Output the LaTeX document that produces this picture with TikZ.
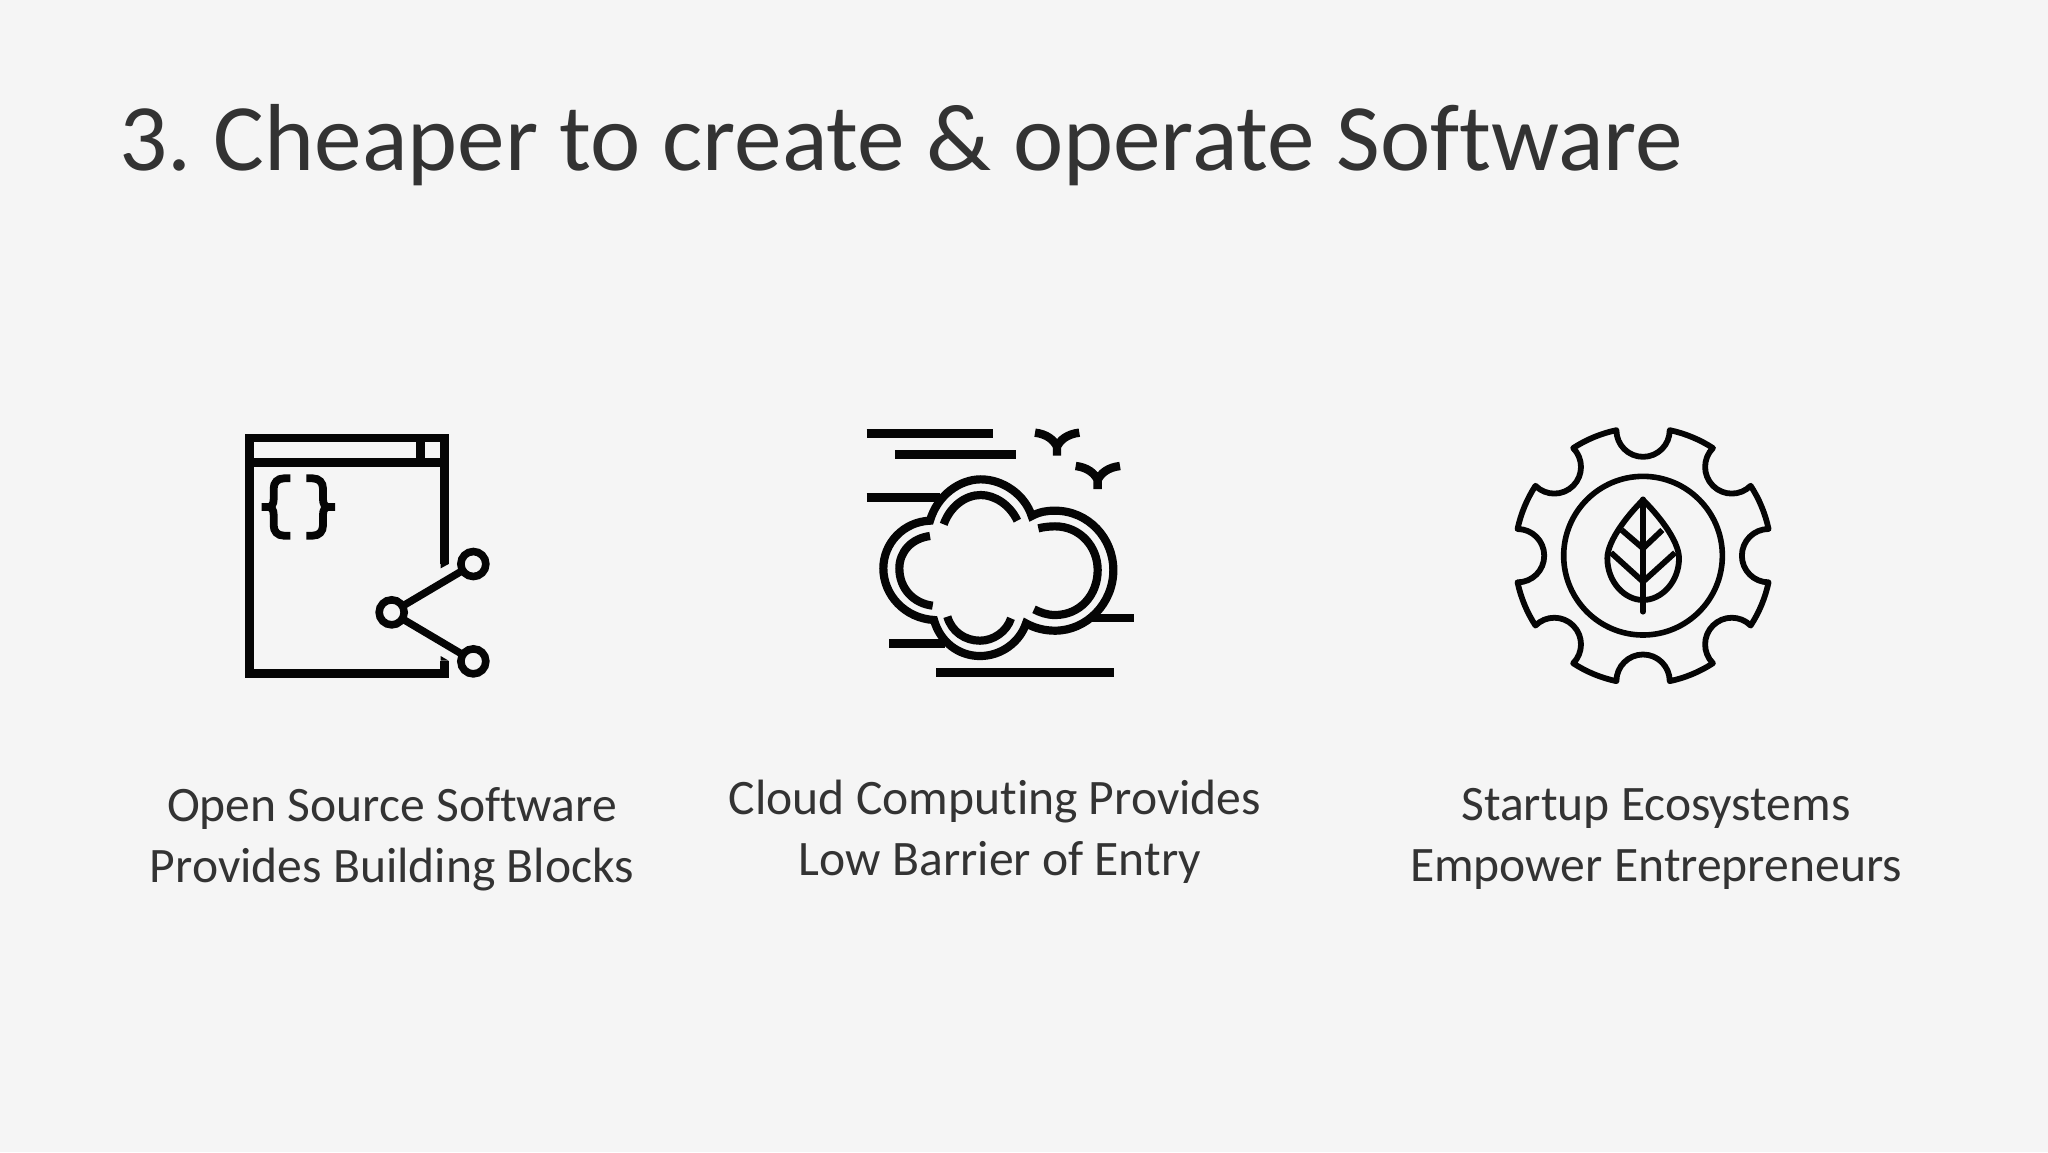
\documentclass[tikz,border=0pt]{standalone}
\usepackage{fontspec}
\setmainfont[Ligatures=CommonOff]{Carlito}
\definecolor{bgc}{HTML}{F5F5F5}
\definecolor{txt}{HTML}{333333}
\definecolor{ink}{HTML}{050505}
\tikzset{
  title/.style={anchor=base west,text=txt,font=\fontsize{47.6}{54}\selectfont,inner sep=0pt},
  caption/.style={anchor=center,text=txt,align=center,font=\fontsize{24.8}{30.6}\selectfont,inner sep=0pt},
  zoomed/.style={x=0.166667pt,y=-0.166667pt,ink,line join=miter},
}
\begin{document}
\begin{tikzpicture}[x=0.5pt,y=-0.5pt]
\fill[bgc] (0,0) rectangle (2048,1152);
\useasboundingbox (0,0) rectangle (2048,1152);
\node[title] (head) at (119,170) {3.\kern-3.2pt{} Cheaper to create \& operate Software};
\node[caption] (capa) at (392,839) {Open Source Software\\Provides Building Blocks};
\node[caption] (capb) at (995,832) {Cloud Computing Provides\\\hspace*{5pt}Low Barrier of Entry};
\node[caption] (capc) at (1656,839) {Startup Ecosystems\\Empower Entrepreneurs};
% icon 1
\begin{scope}[shift={(220,410)},zoomed]
\draw[line width=4.2pt] (674,752) -- (674,790) -- (88,790) -- (88,84) -- (674,84) -- (674,462);
\fill (662,462) -- (686,462) -- (662,475) -- cycle;
\fill (662,752) -- (686,752) -- (662,738) -- cycle;
\draw[line width=4.2pt] (88,157) -- (674,157) (601,84) -- (601,157);
\draw[line width=3.8pt] (760,462) circle[radius=37.5] (760,754) circle[radius=37.5] (515,607) circle[radius=37.5];
\draw[line width=3.7pt] (548,588) -- (727,482) (548,627) -- (727,733);
\draw[line width=3.9pt] (211,205) -- (192,205) .. controls (172,205) and (161,218) .. (161,236) -- (161,268) .. controls (161,282) and (155,291) .. (145,291) -- (125,291)
  (125,291) -- (145,291) .. controls (155,291) and (161,300) .. (161,314) -- (161,346) .. controls (161,364) and (172,377) .. (192,377) -- (211,377);
\draw[line width=3.9pt] (259,205) -- (278,205) .. controls (298,205) and (309,218) .. (309,236) -- (309,268) .. controls (309,282) and (315,291) .. (325,291) -- (345,291)
  (345,291) -- (325,291) .. controls (315,291) and (309,300) .. (309,314) -- (309,346) .. controls (309,364) and (298,377) .. (278,377) -- (259,377);
\end{scope}
% icon 2
\begin{scope}[shift={(850,410)},zoomed]
\draw[line width=4.2pt] (50,70) -- (428,70) (135,133) -- (498,133) (50,262) -- (270,262) (725,624) -- (852,624) (118,700) -- (285,700) (258,788) -- (792,788);
\draw[line width=4.2pt] (555,68) .. controls (590,72) and (612,90) .. (621,110) .. controls (630,90) and (652,72) .. (688,68) (621,105) -- (621,137);
\draw[line width=4.2pt] (677,168) .. controls (712,172) and (734,190) .. (743,210) .. controls (752,190) and (774,172) .. (810,168) (743,205) -- (743,237);
\draw[line width=4.1pt] (240,332) .. controls (262,255) and (330,208) .. (392,208) .. controls (460,208) and (525,255) .. (545,318)
 .. controls (570,305) and (590,302) .. (615,302) .. controls (715,302) and (790,385) .. (790,480) .. controls (790,580) and (710,662) .. (615,662) .. controls (585,662) and (555,655) .. (528,640)
 .. controls (510,695) and (455,738) .. (390,738) .. controls (325,738) and (270,695) .. (252,630)
 .. controls (165,625) and (100,555) .. (100,475) .. controls (100,400) and (160,335) .. (240,332) -- cycle;
\draw[line width=4.1pt] (281,343) .. controls (300,290) and (345,255) .. (392,255) .. controls (435,255) and (480,285) .. (502,332);
\draw[line width=4.1pt] (565,355) .. controls (580,351) and (600,349) .. (615,349) .. controls (690,349) and (743,410) .. (743,480) .. controls (743,555) and (690,615) .. (615,615) .. controls (590,615) and (570,607) .. (552,598);
\draw[line width=4.1pt] (292,620) .. controls (305,665) and (345,692) .. (390,692) .. controls (430,692) and (470,665) .. (483,625);
\draw[line width=4.1pt] (240,378) .. controls (185,385) and (148,425) .. (148,475) .. controls (148,535) and (190,580) .. (248,587);
\end{scope}
% icon 3
\begin{scope}[shift={(1500,410)},zoomed]
\draw[line width=2.9pt,line join=round] (429,437) ++(-12:385) \foreach \a in {0,45,...,315} { arc[start angle=\a-90,end angle=\a-270,radius=80] arc[start angle=\a+12,end angle=\a+33,radius=385] } -- cycle;
\draw[line width=2.8pt] (429,437) circle[radius=238];
\draw[line width=2.9pt,line join=round] (429,270) .. controls (470,310) and (537,390) .. (537,445) .. controls (537,515) and (485,570) .. (429,570) .. controls (373,570) and (322,515) .. (322,445) .. controls (322,390) and (388,310) .. (429,270) -- cycle;
\draw[line width=2.9pt,line cap=round] (429,268) -- (429,605);
\draw[line width=2.9pt] (429,415) -- (487,360) (429,415) -- (365,360) (429,515) -- (525,428) (429,515) -- (333,428);
\end{scope}
\end{tikzpicture}
\end{document}
